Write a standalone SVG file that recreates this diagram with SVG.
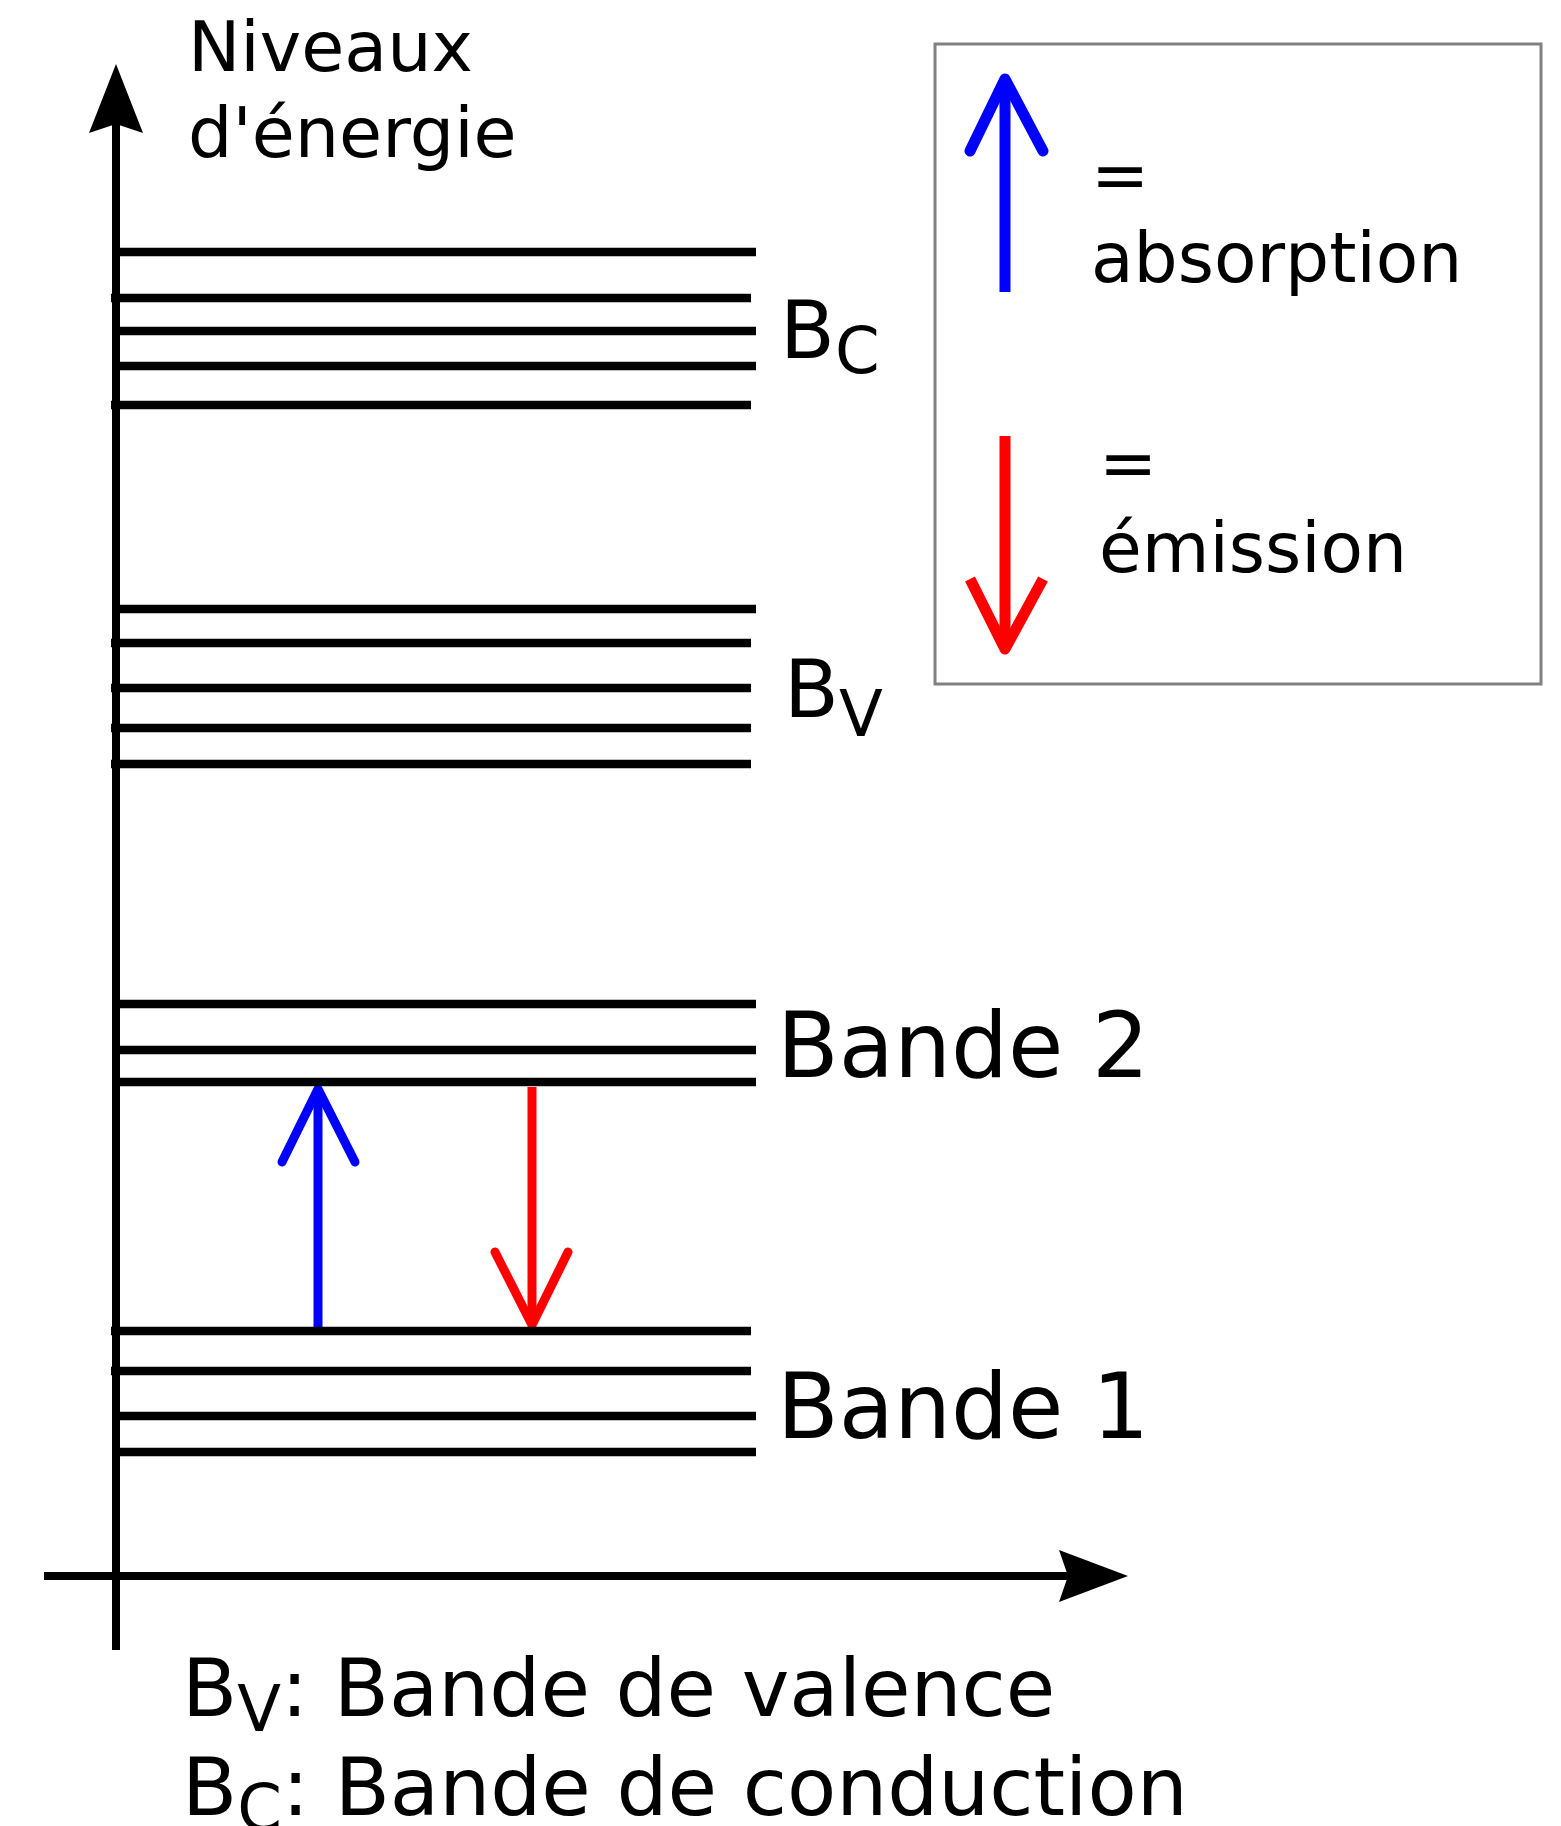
<svg xmlns="http://www.w3.org/2000/svg" width="1561" height="1826" viewBox="0 0 1561 1826">
<style>
text{font-family:"DejaVu Sans","Liberation Sans",sans-serif;fill:#000}
.lvl{stroke:#000;stroke-width:8.5;fill:none}
.axis{stroke:#000;stroke-width:8;fill:none}
.blue{stroke:#0000ff;fill:none}
.red{stroke:#ff0000;fill:none}
.arm{stroke-linecap:round;stroke-linejoin:round}
</style>
<rect width="1561" height="1826" fill="#fff"/>
<g id="connectors">
  <line class="axis" x1="116" y1="1650" x2="116" y2="120"/>
  <path d="M116,64 L143,133 L116,124 L89,133 Z" fill="#000"/>
  <line class="axis" x1="44" y1="1576" x2="1075" y2="1576"/>
  <path d="M1128,1576 L1059,1550 L1068,1576 L1059,1602 Z" fill="#000"/>
  <g id="absorption-arrow">
    <line class="blue" stroke-width="9" x1="318" y1="1327" x2="318" y2="1094"/>
    <polyline class="blue arm" stroke-width="9" points="282,1162 318,1089 355,1162"/>
  </g>
  <g id="emission-arrow">
    <line class="red" stroke-width="9" x1="532" y1="1087" x2="532" y2="1320"/>
    <polyline class="red arm" stroke-width="9" points="495,1252 532,1325 568,1252"/>
  </g>
</g>
<g id="axis-label">
  <text font-size="70" x="188" y="71">Niveaux</text>
  <text font-size="70" x="188" y="157">d'énergie</text>
</g>
<g id="band-C">
  <line class="lvl" x1="117" y1="252" x2="756" y2="252"/>
  <line class="lvl" x1="111" y1="298" x2="751" y2="298"/>
  <line class="lvl" x1="117" y1="331" x2="756" y2="331"/>
  <line class="lvl" x1="117" y1="366" x2="756" y2="366"/>
  <line class="lvl" x1="111" y1="405" x2="751" y2="405"/>
  <text font-size="80" x="780" y="358">B<tspan font-size="64" y="373">C</tspan></text>
</g>
<g id="band-V">
  <line class="lvl" x1="117" y1="609" x2="756" y2="609"/>
  <line class="lvl" x1="111" y1="643" x2="751" y2="643"/>
  <line class="lvl" x1="111" y1="688" x2="751" y2="688"/>
  <line class="lvl" x1="111" y1="728" x2="751" y2="728"/>
  <line class="lvl" x1="111" y1="764" x2="751" y2="764"/>
  <text font-size="80" x="784" y="717">B<tspan font-size="64" y="736">V</tspan></text>
</g>
<g id="band-2">
  <line class="lvl" x1="117" y1="1004" x2="756" y2="1004"/>
  <line class="lvl" x1="117" y1="1050" x2="756" y2="1050"/>
  <line class="lvl" x1="117" y1="1082" x2="756" y2="1082"/>
  <text font-size="90" x="777" y="1077">Bande 2</text>
</g>
<g id="band-1">
  <line class="lvl" x1="111" y1="1331" x2="751" y2="1331"/>
  <line class="lvl" x1="111" y1="1371" x2="751" y2="1371"/>
  <line class="lvl" x1="117" y1="1416" x2="756" y2="1416"/>
  <line class="lvl" x1="117" y1="1452" x2="756" y2="1452"/>
  <text font-size="90" x="777" y="1438">Bande 1</text>
</g>
<g id="legend">
  <rect x="935" y="44" width="606" height="640" fill="#fff" stroke="#808080" stroke-width="3"/>
  <line class="blue" stroke-width="11" x1="1005" y1="292" x2="1005" y2="84"/>
  <polyline class="blue arm" stroke-width="11" points="970,151 1005,79 1043,151"/>
  <text font-size="69.5" x="1091" y="199">=</text>
  <text font-size="69.5" x="1091" y="282">absorption</text>
  <line class="red" stroke-width="11" x1="1005" y1="436" x2="1005" y2="644"/>
  <polyline class="red" stroke-width="11" stroke-linejoin="round" points="970,579 1005,649 1043,579"/>
  <text font-size="69.5" x="1099" y="487">=</text>
  <text font-size="69.5" x="1099" y="572">émission</text>
</g>
<g id="footnote">
  <text font-size="80.5" x="182" y="1716">B<tspan font-size="64" y="1731">V</tspan><tspan y="1716">: Bande de valence</tspan></text>
  <text font-size="80.5" x="182" y="1815">B<tspan font-size="64" y="1830">C</tspan><tspan y="1815">: Bande de conduction</tspan></text>
</g>
</svg>
